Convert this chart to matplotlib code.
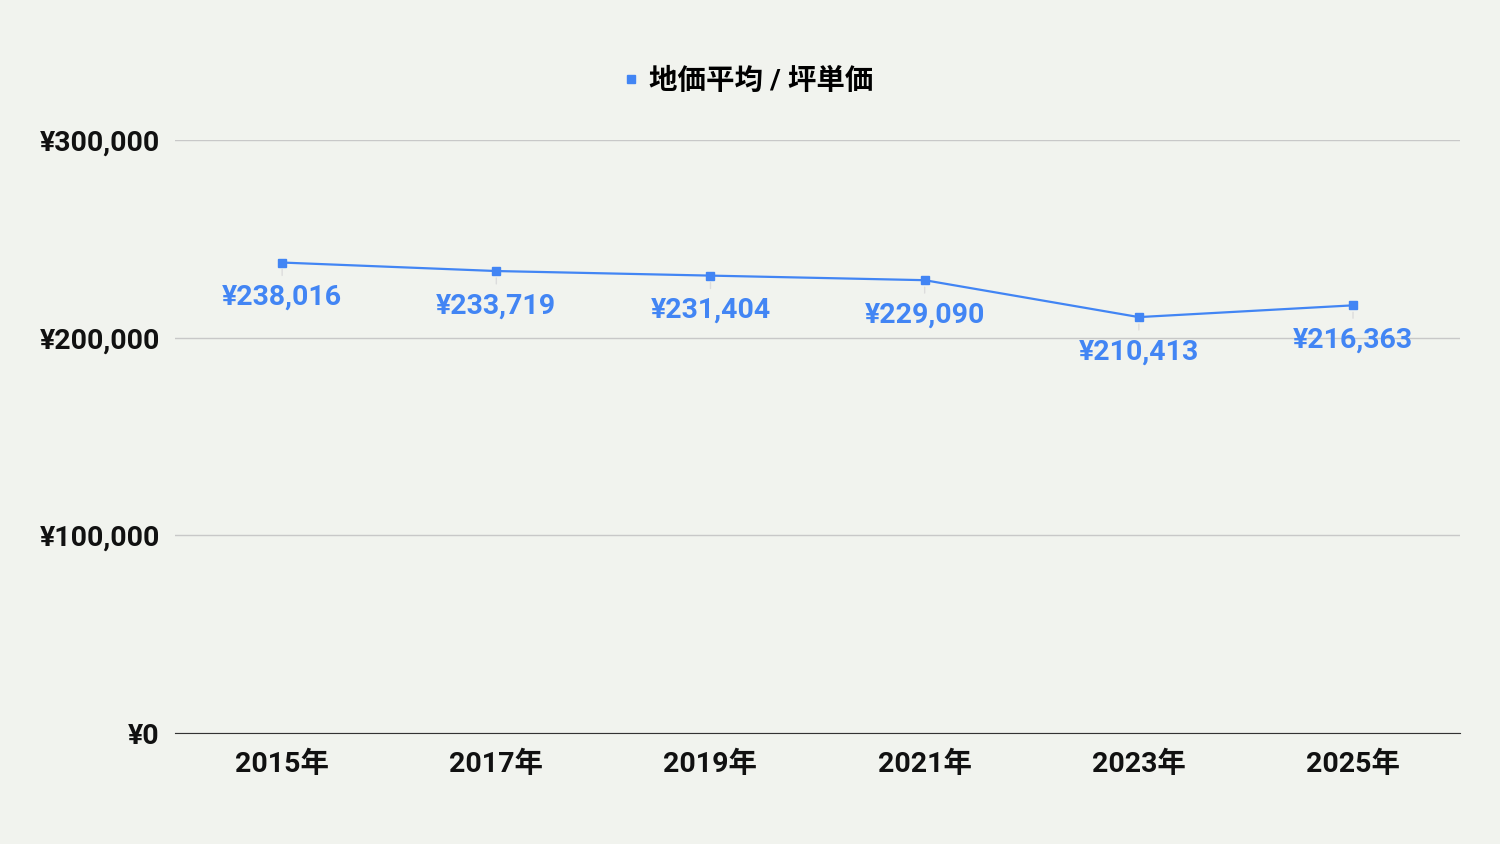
import matplotlib.pyplot as plt
from matplotlib.lines import Line2D
from matplotlib.ticker import FuncFormatter

years = ['2015年', '2017年', '2019年', '2021年', '2023年', '2025年']
prices = [238016, 233719, 231404, 229090, 210413, 216363]
series_name = '地価平均 / 坪単価'

plt.rcParams['font.family'] = ['Roboto', 'Noto Sans CJK JP', 'DejaVu Sans']
plt.rcParams['font.weight'] = 'bold'

bg = '#f1f3ee'
blue = '#4285f4'

fig = plt.figure(figsize=(15, 8.44), dpi=100, facecolor=bg)
ax = fig.add_axes([0.1167, 0.1315, 0.8567, 0.7026], facecolor=bg)

x = list(range(len(years)))
ax.plot(x, prices, color=blue, lw=1.6, marker='s', ms=6, zorder=3)

# value labels under each point, with a faint leader line
for xi, v in zip(x, prices):
    ax.annotate(f'¥{v:,}', xy=(xi, v), xytext=(0, -25), textcoords='offset points',
                ha='center', va='center', fontsize=20.5, color=blue, fontweight='bold',
                arrowprops=dict(arrowstyle='-', color='#dcdcdc', lw=1,
                                shrinkA=4, shrinkB=5), zorder=2)

ax.set_xlim(-0.5, len(years) - 0.5)
ax.set_ylim(0, 300000)
ax.set_yticks([0, 100000, 200000, 300000])
ax.yaxis.set_major_formatter(FuncFormatter(lambda v, p: f'¥{int(v):,}'))
ax.set_xticks(x)
ax.set_xticklabels(years)

ax.grid(axis='y', color='#c8c8c8', lw=1)
ax.set_axisbelow(True)
for s in ['top', 'right', 'left']:
    ax.spines[s].set_visible(False)
ax.spines['bottom'].set_color('#333333')
ax.tick_params(length=0, labelsize=20.5, colors='#111111')
ax.tick_params(axis='y', pad=11)
ax.tick_params(axis='x', pad=13)

handle = Line2D([], [], color=blue, marker='s', ls='none', ms=6)
fig.legend([handle], [series_name], loc='center', bbox_to_anchor=(0.4967, 0.904),
           frameon=False, fontsize=20.5, handletextpad=0.1, handlelength=1.0)

fig.savefig('out.png', dpi=100, facecolor=bg)
